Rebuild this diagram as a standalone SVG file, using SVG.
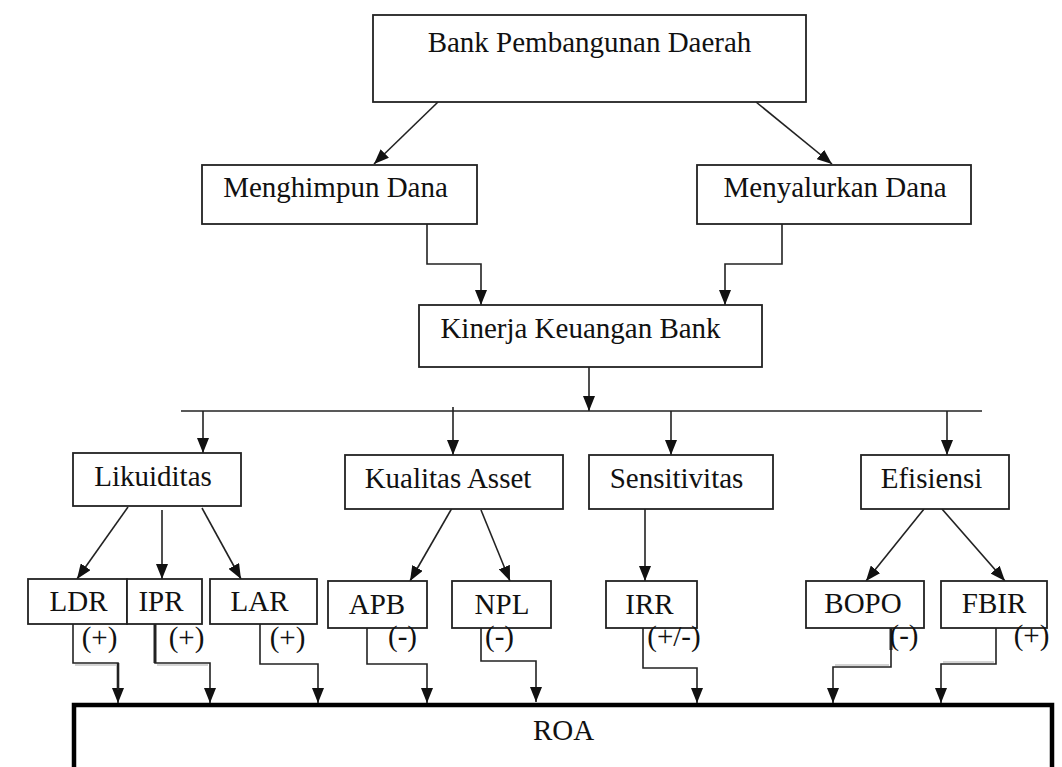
<svg xmlns="http://www.w3.org/2000/svg" width="1062" height="767" viewBox="0 0 1062 767">
<style>
.box{fill:#fff;stroke:#222;stroke-width:1.8}
.t{font-family:"Liberation Serif","Times New Roman",serif;font-size:29px;fill:#111;text-anchor:middle}
.c{fill:none;stroke:#222;stroke-width:1.6}
.ca{fill:none;stroke:#222;stroke-width:1.6;marker-end:url(#ah)}
.g{fill:none;stroke:#aaa;stroke-width:1.2}
</style>
<defs>
<marker id="ah" markerUnits="userSpaceOnUse" markerWidth="15" markerHeight="12" refX="15" refY="6" orient="auto">
<path d="M0,0 L15,6 L0,12 z" fill="#111"/>
</marker>
</defs>
<rect width="1062" height="767" fill="#fff"/>
<g id="connectors">
<path class="ca" d="M438,102 L374,164"/>
<path class="ca" d="M756,102 L832,164"/>
<path class="ca" d="M427,224 V264 H481 V305"/>
<path class="ca" d="M782,224 V264 H725 V305"/>
<path class="ca" d="M589,367 V411"/>
<path class="c" d="M181,411 H982"/>
<path class="ca" d="M203,411 V453"/>
<path class="ca" d="M453,407 V455"/>
<path class="ca" d="M671,411 V455"/>
<path class="ca" d="M947,411 V455"/>
<path class="ca" d="M128,507 L77,579"/>
<path class="ca" d="M162,510 V579"/>
<path class="ca" d="M202,508 L241,579"/>
<path class="ca" d="M452,508 L410,581"/>
<path class="ca" d="M481,510 L510,581"/>
<path class="ca" d="M645,509 V581"/>
<path class="ca" d="M924,509 L866,581"/>
<path class="ca" d="M942,509 L1005,581"/>
<path class="g" d="M75,665 H116"/>
<path class="ca" d="M73,621 V663 H118 V703"/>
<path class="c" d="M118,663 V690" style="stroke-width:2.6"/>
<path class="g" d="M157,665 H208"/>
<path class="ca" d="M155,621 V663 H210 V703"/>
<path class="c" d="M155,621 V663" style="stroke-width:3"/>
<path class="ca" d="M260,624 V664 H318 V703"/>
<path class="ca" d="M367,623 V664 H427 V703"/>
<path class="ca" d="M481,620 V661 H536 V702"/>
<path class="ca" d="M643,628 V668 H697 V703"/>
<path class="g" d="M889,665 H835"/>
<path class="ca" d="M891,620 V667 H833 V703"/>
<path class="c" d="M891,621 V650" style="stroke-width:3"/>
<path class="g" d="M994,662 H943"/>
<path class="ca" d="M996,620 V664 H941 V703"/>
</g>
<g id="bpd"><rect class="box" x="373" y="15" width="433" height="87"/><text class="t" x="589.5" y="52">Bank Pembangunan Daerah</text></g>
<g id="menghimpun"><rect class="box" x="202" y="165" width="275" height="59"/><text class="t" x="335.5" y="197">Menghimpun Dana</text></g>
<g id="menyalurkan"><rect class="box" x="697" y="165" width="274" height="59"/><text class="t" x="835" y="197">Menyalurkan Dana</text></g>
<g id="kinerja"><rect class="box" x="419" y="305" width="343" height="62"/><text class="t" x="580.5" y="338">Kinerja Keuangan Bank</text></g>
<g id="likuiditas"><rect class="box" x="73" y="453" width="168" height="53"/><text class="t" x="153" y="486">Likuiditas</text></g>
<g id="kualitas"><rect class="box" x="345" y="455" width="218" height="54"/><text class="t" x="448" y="488">Kualitas Asset</text></g>
<g id="sensitivitas"><rect class="box" x="589" y="455" width="184" height="54"/><text class="t" x="676.5" y="488">Sensitivitas</text></g>
<g id="efisiensi"><rect class="box" x="861" y="455" width="148" height="54"/><text class="t" x="931.5" y="488">Efisiensi</text></g>
<g id="ldr"><rect class="box" x="28" y="579" width="99" height="45"/><text class="t" x="78.5" y="611">LDR</text></g>
<g id="ipr"><rect class="box" x="127" y="579" width="75" height="45"/><text class="t" x="161" y="611">IPR</text></g>
<g id="lar"><rect class="box" x="210" y="579" width="107" height="45"/><text class="t" x="259.5" y="611">LAR</text></g>
<g id="apb"><rect class="box" x="328" y="581" width="99" height="47"/><text class="t" x="377" y="614">APB</text></g>
<g id="npl"><rect class="box" x="452" y="581" width="99" height="47"/><text class="t" x="502" y="614">NPL</text></g>
<g id="irr"><rect class="box" x="606" y="581" width="91" height="47"/><text class="t" x="649.5" y="614">IRR</text></g>
<g id="bopo"><rect class="box" x="806" y="581" width="118" height="47"/><text class="t" x="863" y="613">BOPO</text></g>
<g id="fbir"><rect class="box" x="941" y="581" width="106" height="47"/><text class="t" x="994" y="613">FBIR</text></g>
<g id="labels">
<text class="t" x="99.5" y="647">(+)</text>
<text class="t" x="186.5" y="647">(+)</text>
<text class="t" x="287.5" y="647">(+)</text>
<text class="t" x="402.5" y="646">(-)</text>
<text class="t" x="499.5" y="646">(-)</text>
<text class="t" x="674" y="646">(+/-)</text>
<text class="t" x="904" y="645">(-)</text>
<text class="t" x="1031.5" y="645">(+)</text>
</g>
<g id="roa"><rect x="74" y="705" width="978" height="100" fill="#fff" stroke="#000" stroke-width="4.5"/><text class="t" x="563.5" y="740">ROA</text></g>
</svg>
